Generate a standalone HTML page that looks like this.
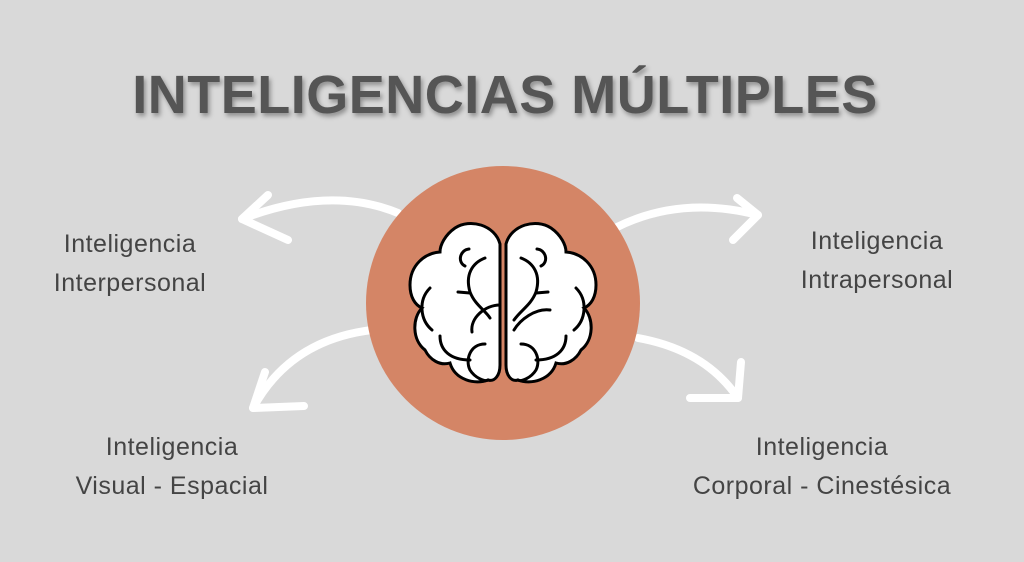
<!DOCTYPE html>
<html><head><meta charset="utf-8"><style>
body{margin:0;width:1024px;height:562px;background:#d9d9d9;overflow:hidden;position:relative;font-family:"Liberation Sans","DejaVu Sans",sans-serif}
.t{position:absolute;left:0;width:1010px;top:64px;text-align:center;font-weight:bold;font-size:54px;letter-spacing:0.5px;color:#555;text-shadow:2px 3px 5px rgba(0,0,0,.35)}
.l{position:absolute;width:320px;text-align:center;font-size:25px;line-height:39px;color:#444;letter-spacing:0.5px}
</style></head><body>
<div class="t">INTELIGENCIAS MÚLTIPLES</div>
<svg width="1024" height="562" style="position:absolute;left:0;top:0">
<g fill="none" stroke="#fff" stroke-width="8" stroke-linecap="round" stroke-linejoin="round">
<path d="M398 213 Q330 185 242 219"/><path d="M268 195 L242 219 L288 240"/>
<path d="M372 330 Q290 340 253 408"/><path d="M265 372 L253 408 L304 406"/>
<path d="M615 228 Q680 195 758 215"/><path d="M737 198 L758 215 L733 240"/>
<path d="M638 338 Q705 350 738 398"/><path d="M741 362 L738 398 L690 398"/>
</g>
<circle cx="503" cy="303" r="137" fill="#d48566"/>
<g fill="#fff" stroke="#000" stroke-width="3" stroke-linecap="round">
<path d="M500 244 C495 225 470 218 455 228 C445 235 440 245 440 252 C425 253 410 265 410 285 C410 297 415 305 422 308 C412 318 412 340 425 350 C430 360 440 366 450 363 C455 380 475 385 488 380 C495 382 500 375 500 365 Z"/>
<path d="M506 244 C511 225 536 218 551 228 C561 235 566 245 566 252 C581 253 596 265 596 285 C596 297 591 305 584 308 C594 318 594 340 581 350 C576 360 566 366 556 363 C551 380 531 385 518 380 C511 382 506 375 506 365 Z"/>
</g>
<g fill="none" stroke="#000" stroke-width="3" stroke-linecap="round">
<path d="M469 249 C460 250 457 262 465 266"/><path d="M485 258 C472 263 465 275 470 292 C475 305 485 310 490 318"/>
<path d="M458 292 L470 293"/><path d="M430 288 C418 300 420 320 432 330"/><path d="M500 305 C485 305 470 318 472 332"/>
<path d="M440 336 C440 350 450 360 470 360"/><path d="M485 344 C470 344 465 360 470 370 C475 378 485 382 488 380"/>
<path d="M537 249 C546 250 549 262 541 266"/><path d="M521 258 C534 263 541 275 536 292 C531 305 521 310 514 320"/>
<path d="M548 292 L536 293"/><path d="M576 288 C588 300 586 320 574 330"/><path d="M550 310 C535 308 520 320 514 330"/>
<path d="M566 336 C566 350 556 360 536 360"/><path d="M521 344 C536 344 541 360 536 370 C531 378 521 382 518 380"/>
</g>
</svg>
<div class="l" style="left:-30px;top:225px">Inteligencia<br>Interpersonal</div>
<div class="l" style="left:717px;top:222px">Inteligencia<br>Intrapersonal</div>
<div class="l" style="left:12px;top:428px">Inteligencia<br>Visual - Espacial</div>
<div class="l" style="left:662px;top:428px">Inteligencia<br>Corporal - Cinestésica</div>
</body></html>
